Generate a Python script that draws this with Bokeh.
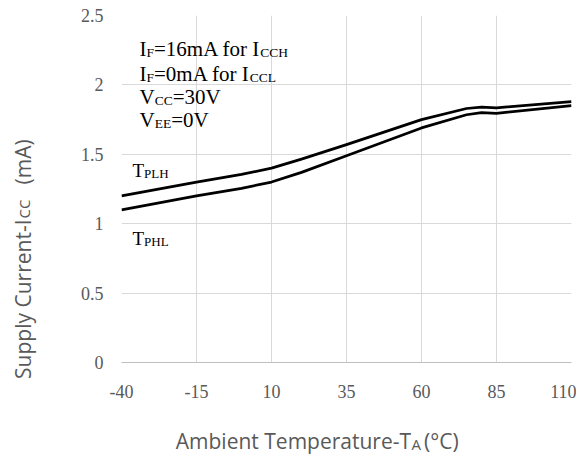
import math
from bokeh.plotting import figure
from bokeh.models import Range1d, FixedTicker, Label
from bokeh.layouts import row, column
from bokeh.embed import file_html
from bokeh.resources import INLINE

# ---- data ----
temp_upper = [-40, -15, 0, 10, 20, 35, 60, 75, 80, 85, 110]
icc_upper_tplh = [1.20, 1.30, 1.355, 1.40, 1.465, 1.57, 1.75, 1.83, 1.84, 1.835, 1.88]
temp_lower = [-40, -15, 0, 10, 20, 35, 60, 75, 80, 85, 110]
icc_lower_tphl = [1.10, 1.20, 1.255, 1.30, 1.37, 1.49, 1.69, 1.785, 1.80, 1.795, 1.85]

x_ticks = [-40, -15, 10, 35, 60, 85, 110]
x_tick_labels = ["-40", "-15", "10", "35", "60", "85", "110"]
y_ticks = [0, 0.5, 1, 1.5, 2, 2.5]
y_tick_labels = ["0", "0.5", "1", "1.5", "2", "2.5"]

X0, X1 = -40, 110
Y0, Y1 = 0, 2.5

# page geometry (pixels)
PW, PH = 576, 456
YT_W = 60          # width of the y-title strip (full height)
MAIN_H = 400       # height of main plot
FL, FR, FT, FB = 121, 571, 15, 364   # frame edges on the page
BASE_FIX = 0.27    # baseline correction (em) for label placement


def X(px):
    return X0 + (px - FL) * (X1 - X0) / (FR - FL)


def Y(py):
    return Y0 + (FB - py) * (Y1 - Y0) / (FB - FT)


p = figure(width=PW - YT_W, height=MAIN_H, output_backend="svg", toolbar_location=None,
           x_range=Range1d(X0, X1), y_range=Range1d(Y0, Y1),
           min_border_left=FL - YT_W, min_border_right=PW - FR,
           min_border_top=FT, min_border_bottom=MAIN_H - FB)
p.outline_line_color = None
p.background_fill_color = "white"
p.border_fill_color = "white"

serif = "Liberation Serif"
sans = "Open Sans"

p.xaxis.ticker = FixedTicker(ticks=x_ticks)
p.xaxis.major_label_overrides = {t: l for t, l in zip(x_ticks, x_tick_labels)}
p.yaxis.ticker = FixedTicker(ticks=y_ticks)
p.yaxis.major_label_overrides = {t: l for t, l in zip(y_ticks, y_tick_labels)}
for ax in (p.xaxis, p.yaxis):
    ax.major_tick_line_color = None
    ax.minor_tick_line_color = None
    ax.major_label_text_font = serif
    ax.major_label_text_font_size = "18px"
    ax.major_label_text_color = "#595959"
p.xaxis.axis_line_color = "#bfbfbf"
p.yaxis.axis_line_color = None
p.xaxis.major_label_standoff = 16
p.yaxis.major_label_standoff = 12

p.xgrid.ticker = FixedTicker(ticks=x_ticks)
p.ygrid.ticker = FixedTicker(ticks=y_ticks)
p.grid.grid_line_color = "#d9d9d9"
p.grid.grid_line_width = 1

p.line(temp_upper, icc_upper_tplh, line_color="black", line_width=2.75, line_join="round")
p.line(temp_lower, icc_lower_tphl, line_color="black", line_width=2.75, line_join="round")

# Times metrics (em) for placing subscripts
W = {"I": .333, "F": .556, "=": .564, "0": .5, "1": .5, "3": .5, "6": .5,
     "m": .778, "A": .722, " ": .25, "f": .333, "o": .5, "r": .333, "C": .667,
     "H": .722, "L": .611, "V": .722, "E": .611, "T": .611, "P": .556}


def rich(px, py, parts, size, sub_size, sub_drop=1.5, color="black"):
    x = px
    for txt, is_sub in parts:
        fs = sub_size if is_sub else size
        yy = py + (sub_drop if is_sub else 0) - BASE_FIX * fs
        p.add_layout(Label(x=X(x), y=Y(yy), text=txt, text_font=serif,
                           text_font_size=f"{fs}px", text_color=color,
                           text_baseline="alphabetic", text_align="left"))
        x += sum(W.get(c, .5) for c in txt) * fs


S, T = 21, 13.5
rich(139, 54, [("I", False), ("F", True), ("=16mA for I", False), ("CCH", True)], S, T)
rich(139, 79.5, [("I", False), ("F", True), ("=0mA for I", False), ("CCL", True)], S, T)
rich(139, 103, [("V", False), ("CC", True), ("=30V", False)], S, T)
rich(139, 126, [("V", False), ("EE", True), ("=0V", False)], S, T)

rich(132, 176, [("T", False), ("PLH", True)], 19, 13, 1)
rich(132, 244.5, [("T", False), ("PHL", True)], 19, 13, 1)


def blank(w, h):
    f = figure(width=w, height=h, output_backend="svg", toolbar_location=None,
               x_range=Range1d(0, w), y_range=Range1d(0, h),
               x_axis_type=None, y_axis_type=None,
               min_border_left=0, min_border_right=0, min_border_top=0, min_border_bottom=0)
    f.outline_line_color = None
    f.grid.visible = False
    f.background_fill_color = "white"
    f.border_fill_color = "white"
    return f


tc = "#595959"

# y-axis title strip (page x 0..60, y 0..456)
fy = blank(YT_W, PH)
ROT_DX, ROT_DY = -10, 0   # correction for rotated labels


def ylab(px, py, text, size, align):
    fy.add_layout(Label(x=px + ROT_DX, y=PH - (py + ROT_DY), text=text, text_font=sans,
                        text_font_size=f"{size}px", text_color=tc,
                        text_baseline="alphabetic", text_align=align,
                        angle=math.pi / 2))


ylab(32, 219, "Supply Current-I", 21, "right")
ylab(33.5, 218, "CC", 15, "left")
ylab(32, 184, "(mA)", 21, "left")

# x-axis title strip (page x 60..576, y 400..456)
XT_H = PH - MAIN_H
fx = blank(PW - YT_W, XT_H)
XT_DX = -18   # empirical horizontal correction for this strip


def xlab(px, py, text, size, align):
    fx.add_layout(Label(x=px - YT_W + XT_DX, y=PH - (py - BASE_FIX * size), text=text,
                        text_font=sans, text_font_size=f"{size}px", text_color=tc,
                        text_baseline="alphabetic", text_align=align))


xlab(410, 446, "Ambient Temperature-T", 21, "right")
xlab(410.5, 447.5, "A", 15, "left")
xlab(425, 446, "(°C)", 21, "left")

layout = row(fy, column(p, fx))
open("out.html", "w").write(file_html(layout, INLINE))
